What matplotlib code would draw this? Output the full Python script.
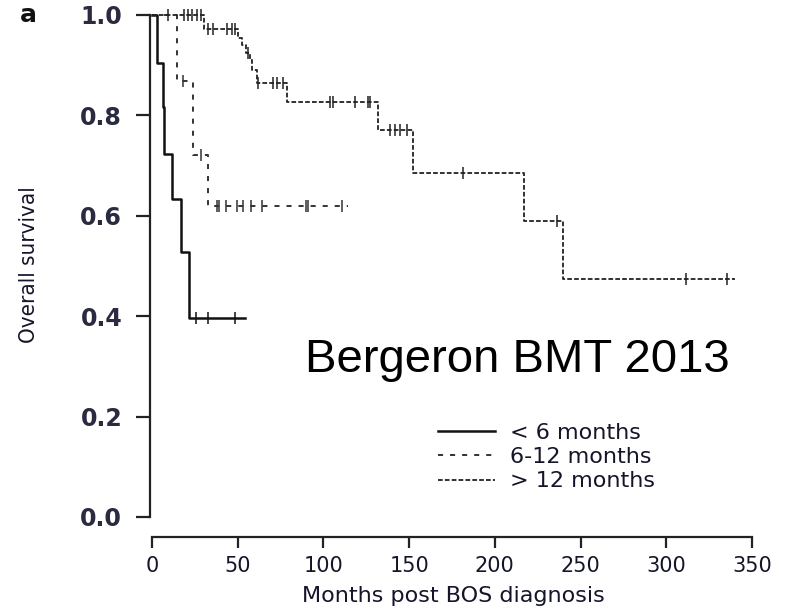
import numpy as np
import matplotlib
matplotlib.use("Agg")
import matplotlib.pyplot as plt
from matplotlib.lines import Line2D
from matplotlib import font_manager

# ---------------- data ----------------
lt6_times = [0, 2.7, 6.2, 7.0, 11.8, 16.7, 21.7, 54.5]
lt6_surv = [1.0, 0.904, 0.817, 0.723, 0.633, 0.528, 0.397, 0.397]
lt6_censor = [25.7, 32.8, 48.4]

mid_times = [0, 14.7, 24.1, 32.8, 114.5]
mid_surv = [1.0, 0.868, 0.721, 0.620, 0.620]
mid_censor = [18.0, 28.6, 37.7, 39.2, 43.0, 49.4, 53.3, 58.0, 64.0, 89.8, 91.2, 110.6]

gt12_times = [0, 30.2, 50.0, 52.3, 55.0, 57.0, 58.5, 61.0, 78.6, 132.0, 152.3, 217.0, 240.0, 340.0]
gt12_surv = [1.0, 0.972, 0.955, 0.940, 0.925, 0.910, 0.890, 0.865, 0.827, 0.771, 0.686, 0.589, 0.474, 0.474]
gt12_censor = [9.5, 18.5, 21.0, 23.5, 26.0, 28.5, 32.7, 35.6, 43.8, 46.7, 48.5, 56.0,
               62.0, 70.6, 72.9, 76.4, 104.0, 105.5, 118.4, 126.0, 127.0, 139.0, 141.8,
               144.7, 148.6, 181.5, 236.0, 311.5, 335.7]

labels = ["< 6 months", "6-12 months", "> 12 months"]
xticks = [0, 50, 100, 150, 200, 250, 300, 350]
yticks = [0.0, 0.2, 0.4, 0.6, 0.8, 1.0]

# ---------------- figure ----------------
W, H = 788, 615
fig = plt.figure(figsize=(W / 100, H / 100), dpi=100)
fig.patch.set_facecolor("white")
ax = fig.add_axes([150 / W, (H - 517) / H, 610 / W, 502 / H])
ax.set_xlim(-1.2, 354.7)
ax.set_ylim(0, 1)

txt = "#15152a"


def surv_at(times, surv, t):
    i = np.searchsorted(times, t, side="right") - 1
    return surv[i]


styles = [
    dict(color="#111111", lw=1.8, ls="-"),
    dict(color="#333333", lw=1.4, ls=(0, (2.6, 3.6))),
    dict(color="#222222", lw=1.3, ls=(0, (2.6, 1.2))),
]
series = [(lt6_times, lt6_surv, lt6_censor),
          (mid_times, mid_surv, mid_censor),
          (gt12_times, gt12_surv, gt12_censor)]

for (t, s, c), st in zip(series, styles):
    ax.step(t, s, where="post", clip_on=False, **st)
    cs = [surv_at(t, s, x) for x in c]
    ax.plot(c, cs, ls="none", marker="|", markersize=8, mew=1.1,
            color=st["color"], clip_on=False)

# spines
for sp in ["top", "right"]:
    ax.spines[sp].set_visible(False)
ax.spines["bottom"].set_position(("outward", 14.4))
ax.spines["bottom"].set_bounds(0, 350)
ax.spines["left"].set_bounds(0, 1)
for sp in ["bottom", "left"]:
    ax.spines[sp].set_linewidth(1.6)
    ax.spines[sp].set_color("#222222")

ax.set_xticks(xticks)
ax.set_xticklabels([str(v) for v in xticks], fontsize=15, family="DejaVu Sans", color=txt)
ax.set_yticks(yticks)
ax.set_yticklabels([f"{v:.1f}" for v in yticks], fontsize=17, family="DejaVu Sans",
                   fontweight="bold", color="#2a2a40")
ax.tick_params(axis="x", direction="out", length=8, width=1.6, pad=6, color="#222222")
ax.tick_params(axis="y", direction="out", length=10, width=1.6, pad=10, color="#222222")

# condensed font for y label if available
names = {f.name for f in font_manager.fontManager.ttflist}
if "Liberation Sans Narrow" in names:
    ylab_kw = dict(family=["Liberation Sans Narrow", "DejaVu Sans"], fontsize=18)
else:
    ylab_kw = dict(family=["DejaVu Sans"], fontstretch="condensed", fontsize=16)

fig.text(29 / W, 1 - 265 / H, "Overall survival", rotation=90, ha="center", va="center",
         color=txt, **ylab_kw)
fig.text(453 / W, 1 - 596 / H, "Months post BOS diagnosis", ha="center", va="center",
         fontsize=16, family="DejaVu Sans", color=txt)
fig.text(20 / W, 1 - 15 / H, "a", ha="left", va="center", fontsize=18,
         fontweight="bold", family="DejaVu Sans", color="#111111")
fig.text(305 / W, 1 - 372 / H, "Bergeron BMT 2013", ha="left", va="baseline",
         fontsize=34, family="Liberation Sans", color="black")

handles = [Line2D([], [], **st) for st in styles]
ax.legend(handles, labels, loc="upper left", bbox_to_anchor=(438 / W, 1 - 423 / H),
          bbox_transform=fig.transFigure, frameon=False,
          prop={"family": "DejaVu Sans", "size": 16}, handlelength=2.55,
          handletextpad=0.7, labelspacing=0.19, borderpad=0, borderaxespad=0,
          labelcolor=txt)

fig.savefig("out.png", dpi=100, facecolor="white")
